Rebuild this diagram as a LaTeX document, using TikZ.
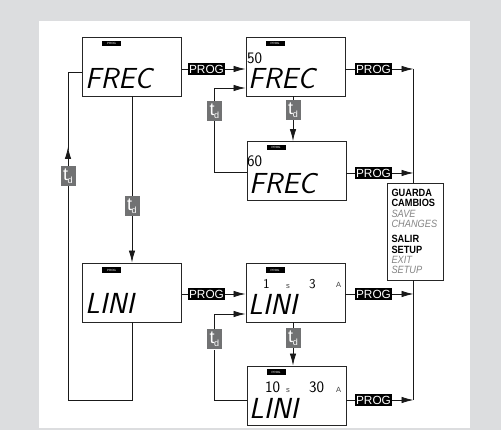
\documentclass[tikz,border=0pt]{standalone}
\usepackage{fontspec}
\setmainfont{Liberation Sans}
\newfontfamily\condfont[FakeStretch=0.88]{Liberation Sans}
\usetikzlibrary{
  arrows.meta,%
  positioning
}
\definecolor{panelgray}{HTML}{DCDDDF}
\definecolor{tdgray}{HTML}{717273}
\definecolor{engray}{HTML}{858585}
\tikzset{>={Latex[length=12pt,width=6.5pt]}}
\tikzset{
  display/.style={draw=black!85, line width=0.9pt, fill=white,
    minimum width=99pt, minimum height=59pt, inner sep=0pt},
  progkey/.style={fill=black, text=white, font=\fontsize{11.8}{12}\selectfont,
    inner sep=0.8pt, minimum height=12.5pt, minimum width=35pt},
  progtag/.style={fill=black, text=white, font=\fontsize{3}{3}\selectfont,
    inner sep=0.3pt, minimum width=19pt, minimum height=5.5pt},
  tdkey/.style={fill=tdgray, text=white, minimum width=15pt, minimum height=20pt,
    inner sep=0pt},
  seg/.style={font=\sffamily\slshape\fontsize{29}{29}\selectfont, inner sep=0pt,
    anchor=base west},
  digits/.style={font=\sffamily\fontsize{16}{16}\selectfont, inner sep=0pt,
    anchor=base west},
  unit/.style={font=\fontsize{7.5}{7.5}\selectfont, text=black!75, inner sep=0pt,
    anchor=base west},
  line/.style={line width=0.8pt, black!90},
}
\newcommand{\tdtext}{\fontsize{18}{18}\selectfont t\hspace{-0.5pt}\raisebox{-3pt}{\fontsize{9}{9}\selectfont d}}

\begin{document}
\begin{tikzpicture}[x=1pt,y=-1pt]
  \useasboundingbox (0,0) rectangle (501,430);
  \fill[panelgray] (0,0) rectangle (501,430);
  \fill[white] (39,21) rectangle (470,428);

  % displays
  \node[display] (frec) at (132,66.5) {};
  \node[display] (frec50) at (295.5,66.5) {};
  \node[display] (frec60) at (296.5,171) {};
  \node[display] (lini) at (132,292.5) {};
  \node[display] (lini1) at (295.5,292.5) {};
  \node[display] (lini10) at (296.5,395.5) {};
  \node[draw=black!85, line width=0.9pt, fill=white, minimum width=56pt,
    minimum height=97pt, inner sep=0pt, align=left, text width=47pt,
    font=\condfont\bfseries\fontsize{10.5}{10.3}\selectfont] (exit) at (415,231.5)
    {GUARDA\\CAMBIOS\\\textcolor{engray}{\mdseries\itshape SAVE}\\
     \textcolor{engray}{\mdseries\itshape CHANGES}\\[5pt]
     SALIR\\SETUP\\\textcolor{engray}{\mdseries\itshape EXIT}\\
     \textcolor{engray}{\mdseries\itshape SETUP}};

  % display contents
  \node[progtag] (tagA) at (111.5,43.5) {PROG};
  \node[seg] (txtA) at (85,89) {FREC};
  \node[progtag] (tagB) at (275,43.5) {PROG};
  \node[digits] (valB) at (247,64) {50};
  \node[seg] (txtB) at (248,89) {FREC};
  \node[progtag] (tagC) at (276,147.5) {PROG};
  \node[digits] (valC) at (247,167) {60};
  \node[seg] (txtC) at (249,194) {FREC};
  \node[progtag] (tagD) at (111.5,270) {PROG};
  \node[seg] (txtD) at (85,314) {LINI};
  \node[progtag] (tagE) at (275,270) {PROG};
  \node[digits, font=\sffamily\fontsize{13.5}{13.5}\selectfont] (valE1) at (263,289) {1};
  \node[unit] (unitE1) at (286,289) {s};
  \node[digits, font=\sffamily\fontsize{13.5}{13.5}\selectfont] (valE2) at (309,289) {3};
  \node[unit] (unitE2) at (336,288) {A};
  \node[seg] (txtE) at (248,315) {LINI};
  \node[progtag] (tagF) at (276,372) {PROG};
  \node[digits] (valF1) at (265,393) {10};
  \node[unit] (unitF1) at (286,393) {s};
  \node[digits] (valF2) at (309,393) {30};
  \node[unit] (unitF2) at (336,392) {A};
  \node[seg] (txtF) at (249,419) {LINI};

  % PROG keys
  \node[progkey] (pAB) at (206.5,69) {PROG};
  \node[progkey] (pB) at (373.5,69) {PROG};
  \node[progkey] (pC) at (373.5,173) {PROG};
  \node[progkey] (pDE) at (206.5,294) {PROG};
  \node[progkey] (pE) at (373.5,294) {PROG};
  \node[progkey] (pF) at (373.5,400) {PROG};
  \coordinate (busT) at (413.5,69);
  \coordinate (busB) at (413.5,400);

  % t_d keys
  \node[tdkey] (tdL) at (68,176) {\tdtext};
  \node[tdkey] (tdAD) at (132,206) {\tdtext};
  \node[tdkey] (tdBC) at (293,110) {\tdtext};
  \node[tdkey] (tdCB) at (214.5,111) {\tdtext};
  \node[tdkey] (tdEF) at (293,338) {\tdtext};
  \node[tdkey] (tdFE) at (214.5,339.5) {\tdtext};

  % PROG connectors
  \draw[line] (frec.east |- pAB) -- (pAB.west);
  \draw[line,->] (pAB.east) -- (pAB.east -| frec50.west);
  \draw[line] (lini.east |- pDE) -- (pDE.west);
  \draw[line,->] (pDE.east) -- (pDE.east -| lini1.west);
  \draw[line] (frec50.east |- pB) -- (pB.west);
  \draw[line,->] (pB.east) -- (busT);
  \draw[line] (frec60.east |- pC) -- (pC.west);
  \draw[line,->] (pC.east) -- (pC.east -| busT);
  \draw[line] (lini1.east |- pE) -- (pE.west);
  \draw[line,->] (pE.east) -- (pE.east -| busT);
  \draw[line] (lini10.east |- pF) -- (pF.west);
  \draw[line,->] (pF.east) -- (busB);
  \draw[line] (busT) -- (busT |- exit.north);
  \draw[line] (busB |- exit.south) -- (busB);

  % t_d connectors
  \draw[line] (frec.south) -- (tdAD.north);
  \draw[line,->] (tdAD.south) -- (tdAD |- lini.north);
  \draw[line] (tdBC |- frec50.south) -- (tdBC.north);
  \draw[line,->] (tdBC.south) -- (tdBC |- frec60.north);
  \draw[line] (tdEF |- lini1.south) -- (tdEF.north);
  \draw[line,->] (tdEF.south) -- (tdEF |- lini10.north);
  \draw[line] (frec60.west |- 0,172) -- (tdCB |- 0,172) -- (tdCB.south);
  \draw[line,->] (tdCB.north) -- (tdCB |- 0,88) -- (frec50.west |- 0,88);
  \draw[line] (lini10.west |- 0,400) -- (tdFE |- 0,400) -- (tdFE.south);
  \draw[line,->] (tdFE.north) -- (tdFE |- 0,314) -- (lini1.west |- 0,314);
  \draw[line] (lini.south) -- (lini.south |- 0,400) -- (tdL |- 0,400) -- (tdL.south);
  \draw[line,->] (tdL.north) -- (tdL |- 0,147);
  \draw[line] (tdL |- 0,150) -- (tdL |- 0,72) -- (frec.west |- 0,72);
\end{tikzpicture}
\end{document}
